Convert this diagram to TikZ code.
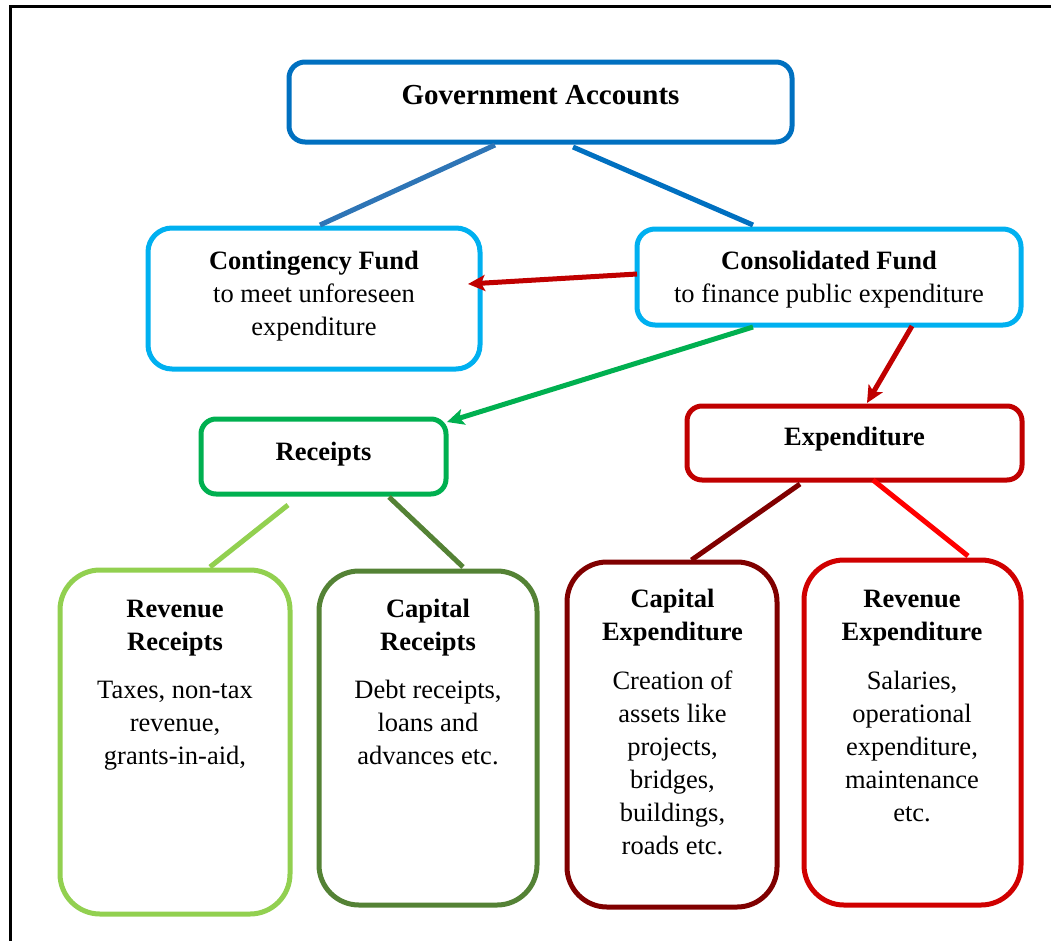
\documentclass[tikz,border=0pt]{standalone}
\usepackage{fontspec}
\setmainfont{Liberation Serif}
\usetikzlibrary{calc,arrows.meta}
\definecolor{govblue}{HTML}{0070C0}
\definecolor{lineblue}{HTML}{2E75B6}
\definecolor{skyblue}{HTML}{00B0F0}
\definecolor{recgreen}{HTML}{00B050}
\definecolor{expred}{HTML}{C00000}
\definecolor{lightgreen}{HTML}{92D050}
\definecolor{olivegreen}{HTML}{548235}
\definecolor{darkred}{HTML}{800000}
\definecolor{brightred}{HTML}{D00000}
\definecolor{purered}{HTML}{FF0000}
\tikzset{
  box/.style={draw=#1, line width=5pt, inner sep=0pt, fill=white},
  txt/.style={anchor=base, align=center, inner sep=0pt, font=\fontsize{26.5}{33}\selectfont},
  conn/.style={draw=#1, line width=5pt},
  arr/.style={draw=#1, line width=5pt, -{Stealth[length=17pt,width=16pt,inset=4pt]}}
}
\begin{document}
\begin{tikzpicture}[x=1pt,y=-1pt]
\useasboundingbox (0,0) rectangle (1051,940);
\begin{scope}
\clip (0,0) rectangle (1051,940);
\draw[line width=3pt] (10.5,6) rectangle (1080,980);
\end{scope}
% boxes
\node[box=govblue, rounded corners=16pt, minimum width=503pt, minimum height=80pt] (gov) at (540.5,102) {};
\node[box=skyblue, rounded corners=24pt, minimum width=332pt, minimum height=141pt] (cont) at (314,298.5) {};
\node[box=skyblue, rounded corners=18pt, minimum width=384pt, minimum height=96pt] (cons) at (829,277) {};
\node[box=recgreen, rounded corners=15pt, minimum width=245pt, minimum height=75pt] (rec) at (323.5,456.5) {};
\node[box=expred, rounded corners=15pt, minimum width=335pt, minimum height=74pt] (exp) at (854.5,443) {};
\node[box=lightgreen, rounded corners=40pt, minimum width=230pt, minimum height=344pt] (rr) at (175,742) {};
\node[box=olivegreen, rounded corners=40pt, minimum width=218pt, minimum height=334pt] (cr) at (428,738) {};
\node[box=darkred, rounded corners=40pt, minimum width=210pt, minimum height=345pt] (ce) at (672,734.5) {};
\node[box=brightred, rounded corners=40pt, minimum width=217pt, minimum height=345pt] (re) at (912.5,732.5) {};
% texts (anchored at the baseline of their last line)
\node[txt, font=\fontsize{29}{33}\selectfont\bfseries] (govt) at (540.5,104) {Government Accounts};
\node[txt] (contt) at (314,335) {\textbf{Contingency Fund}\\to meet unforeseen\\expenditure};
\node[txt] (const) at (829,302) {\textbf{Consolidated Fund}\\to finance public expenditure};
\node[txt] (rect) at (323.5,460) {\textbf{Receipts}};
\node[txt] (expt) at (854.5,445) {\textbf{Expenditure}};
\node[txt] (rrt) at (175,764) {\textbf{Revenue}\\\textbf{Receipts}\\[15pt]Taxes, non-tax\\revenue,\\grants-in-aid,};
\node[txt] (crt) at (428,764) {\textbf{Capital}\\\textbf{Receipts}\\[15pt]Debt receipts,\\loans and\\advances etc.};
\node[txt] (cet) at (672.5,854) {\textbf{Capital}\\\textbf{Expenditure}\\[16pt]Creation of\\assets like\\projects,\\bridges,\\buildings,\\roads etc.};
\node[txt] (ret) at (912,821) {\textbf{Revenue}\\\textbf{Expenditure}\\[16pt]Salaries,\\operational\\expenditure,\\maintenance\\etc.};
% connectors
\draw[conn=lineblue] ($(gov)+(-45.5,43)$) -- ($(cont)+(6,-73.5)$);
\draw[conn=govblue] ($(gov)+(32.5,45)$) -- ($(cons)+(-76,-52)$);
\draw[arr=expred] ($(cons)+(-192,-3)$) -- ($(cont)+(154,-14.5)$);
\draw[arr=recgreen] ($(cons)+(-76,50)$) -- ($(rec)+(123.5,-34.5)$);
\draw[arr=expred] ($(cons)+(83,49)$) -- ($(exp)+(12.5,-40)$);
\draw[conn=lightgreen] ($(rec)+(-35.5,48.5)$) -- ($(rr)+(35,-175)$);
\draw[conn=olivegreen] ($(rec)+(65.5,40.5)$) -- ($(cr)+(35,-171)$);
\draw[conn=darkred] ($(exp)+(-54.5,41)$) -- ($(ce)+(19.5,-174.5)$);
\draw[conn=purered] ($(exp)+(18.5,37)$) -- ($(re)+(55.5,-176.5)$);
\end{tikzpicture}
\end{document}
